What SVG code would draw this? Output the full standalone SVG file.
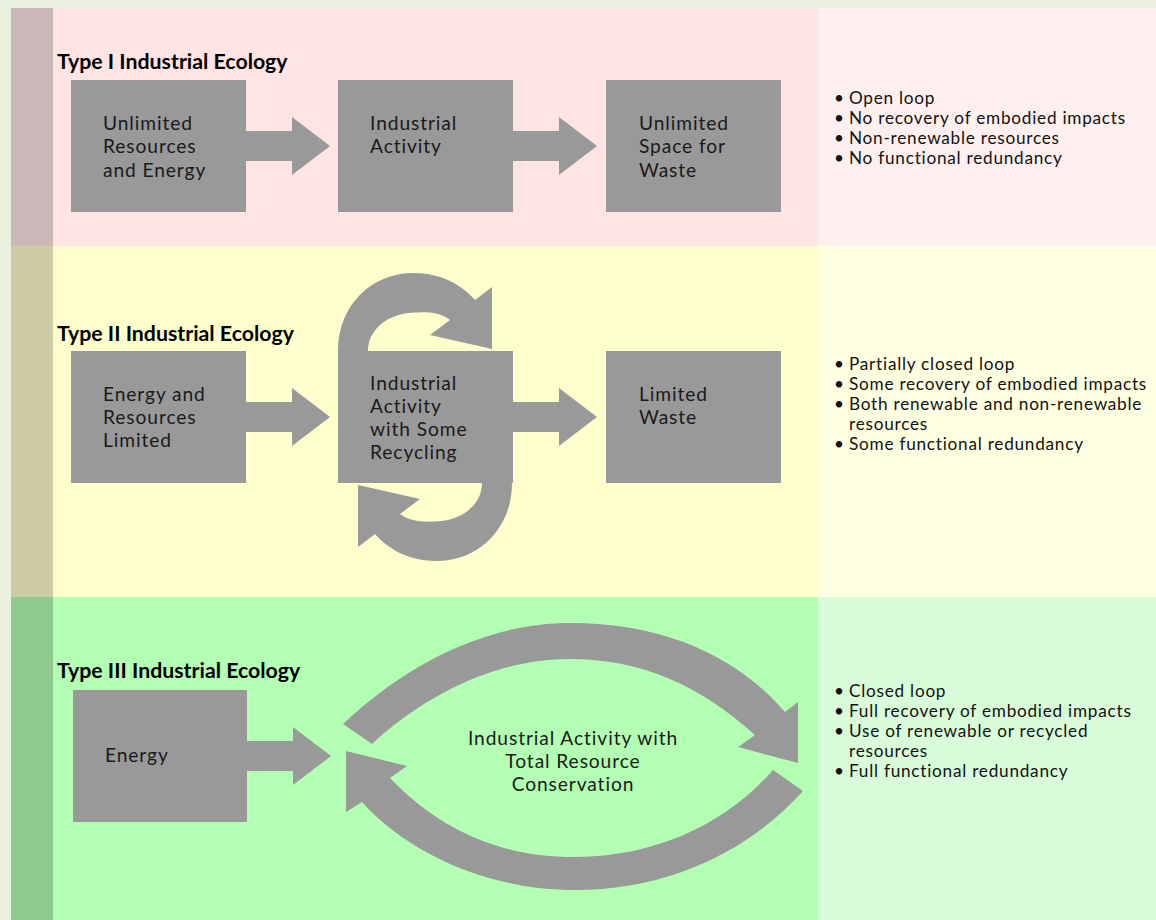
<svg xmlns="http://www.w3.org/2000/svg" width="1156" height="920" viewBox="0 0 1156 920">
  <style>
    .shape { fill: #999999; }
    .title { font-family: Lato, "Open Sans", sans-serif; font-weight: bold; font-size: 21.3px; fill: #000; }
    .label { font-family: Lato, "Open Sans", sans-serif; font-size: 19.2px; letter-spacing: 0.9px; fill: #1a1a1a; }
    .note { font-family: Lato, "Open Sans", sans-serif; font-size: 17.2px; letter-spacing: 0.75px; fill: #111; }
  </style>
  <defs>
    <!-- straight block arrow, tail at origin, pointing right -->
    <path id="blockArrow" d="M0 -15 L46 -15 L46 -29 L84 0 L46 29 L46 15 L0 15 Z"/>
    <!-- short recycling loop, drawn above the centre box -->
    <path id="loopArrow" d="M338 351 C338 305 372 273 413 273 C440 273 461 284 475 300 L492 287 L492 349 L430 335 L450 320 C438 311 424 312 408 313 C385 316 368 331 368 351 Z"/>
  </defs>

  <!-- page background -->
  <rect x="0" y="0" width="1156" height="920" fill="#e9f1de"/>

  <!-- band backgrounds -->
  <g id="band-type1">
    <rect x="11" y="8" width="42" height="238" fill="#cbb9b9"/>
    <rect x="53" y="8" width="765" height="238" fill="#ffe4e4"/>
    <rect x="818" y="8" width="338" height="238" fill="#fff0f0"/>
  </g>
  <g id="band-type2">
    <rect x="11" y="246" width="42" height="351" fill="#cccba6"/>
    <rect x="53" y="246" width="765" height="351" fill="#ffffcd"/>
    <rect x="818" y="246" width="338" height="351" fill="#ffffe2"/>
  </g>
  <g id="band-type3">
    <rect x="11" y="597" width="42" height="323" fill="#90ca90"/>
    <rect x="53" y="597" width="765" height="323" fill="#b3ffb3"/>
    <rect x="818" y="597" width="338" height="323" fill="#d9fdd9"/>
  </g>

  <!-- section titles -->
  <text class="title" x="57" y="69">Type I Industrial Ecology</text>
  <text class="title" x="57" y="341">Type II Industrial Ecology</text>
  <text class="title" x="57" y="678">Type III Industrial Ecology</text>

  <!-- connectors -->
  <g id="connectors" class="shape">
    <use href="#blockArrow" x="246" y="146"/>
    <use href="#blockArrow" x="513" y="146"/>
    <use href="#blockArrow" x="246" y="417"/>
    <use href="#blockArrow" x="513" y="417"/>
    <use href="#blockArrow" x="247" y="756"/>
    <use href="#loopArrow"/>
    <use href="#loopArrow" transform="rotate(180 425 417)"/>
    <!-- large closed loop around the type III activity -->
    <path d="M343 724 C400 670 480 623 570 623 C670 623 740 660 785 712 L798 702 L798 763 L738 747 L755 735 C700 685 640 659 570 659 C490 659 420 700 372 744 Z"/>
    <path d="M803 791 C750 850 670 890 575 890 C490 890 410 855 362 802 L346 812 L346 751 L407 766 L390 778 C440 830 500 857 575 857 C660 857 730 820 773 770 Z"/>
  </g>

  <!-- Type I nodes -->
  <g id="t1-resources">
    <rect class="shape" x="71" y="80" width="175" height="132"/>
    <text class="label" x="103" y="130">Unlimited<tspan x="103" dy="23">Resources</tspan><tspan x="103" dy="24">and Energy</tspan></text>
  </g>
  <g id="t1-activity">
    <rect class="shape" x="338" y="80" width="175" height="132"/>
    <text class="label" x="370" y="130">Industrial<tspan x="370" dy="23">Activity</tspan></text>
  </g>
  <g id="t1-waste">
    <rect class="shape" x="606" y="80" width="175" height="132"/>
    <text class="label" x="639" y="130">Unlimited<tspan x="639" dy="23">Space for</tspan><tspan x="639" dy="24">Waste</tspan></text>
  </g>

  <!-- Type II nodes -->
  <g id="t2-resources">
    <rect class="shape" x="71" y="351" width="175" height="132"/>
    <text class="label" x="103" y="401">Energy and<tspan x="103" dy="23">Resources</tspan><tspan x="103" dy="23">Limited</tspan></text>
  </g>
  <g id="t2-activity">
    <rect class="shape" x="338" y="351" width="175" height="132"/>
    <text class="label" x="370" y="390">Industrial<tspan x="370" dy="23">Activity</tspan><tspan x="370" dy="23">with Some</tspan><tspan x="370" dy="23">Recycling</tspan></text>
  </g>
  <g id="t2-waste">
    <rect class="shape" x="606" y="351" width="175" height="132"/>
    <text class="label" x="639" y="401">Limited<tspan x="639" dy="23">Waste</tspan></text>
  </g>

  <!-- Type III nodes -->
  <g id="t3-energy">
    <rect class="shape" x="73" y="690" width="174" height="132"/>
    <text class="label" x="105" y="762">Energy</text>
  </g>
  <g id="t3-activity">
    <text class="label" text-anchor="middle" x="573" y="745">Industrial Activity with<tspan x="573" dy="23">Total Resource</tspan><tspan x="573" dy="23">Conservation</tspan></text>
  </g>

  <!-- characteristics -->
  <g id="t1-notes">
    <text class="note" x="834" y="104">•<tspan x="849">Open loop</tspan><tspan x="834" dy="20">•</tspan><tspan x="849">No recovery of embodied impacts</tspan><tspan x="834" dy="20">•</tspan><tspan x="849">Non-renewable resources</tspan><tspan x="834" dy="20">•</tspan><tspan x="849">No functional redundancy</tspan></text>
  </g>
  <g id="t2-notes">
    <text class="note" x="834" y="370">•<tspan x="849">Partially closed loop</tspan><tspan x="834" dy="20">•</tspan><tspan x="849">Some recovery of embodied impacts</tspan><tspan x="834" dy="20">•</tspan><tspan x="849">Both renewable and non-renewable</tspan><tspan x="849" dy="20">resources</tspan><tspan x="834" dy="20">•</tspan><tspan x="849">Some functional redundancy</tspan></text>
  </g>
  <g id="t3-notes">
    <text class="note" x="834" y="697">•<tspan x="849">Closed loop</tspan><tspan x="834" dy="20">•</tspan><tspan x="849">Full recovery of embodied impacts</tspan><tspan x="834" dy="20">•</tspan><tspan x="849">Use of renewable or recycled</tspan><tspan x="849" dy="20">resources</tspan><tspan x="834" dy="20">•</tspan><tspan x="849">Full functional redundancy</tspan></text>
  </g>
</svg>
